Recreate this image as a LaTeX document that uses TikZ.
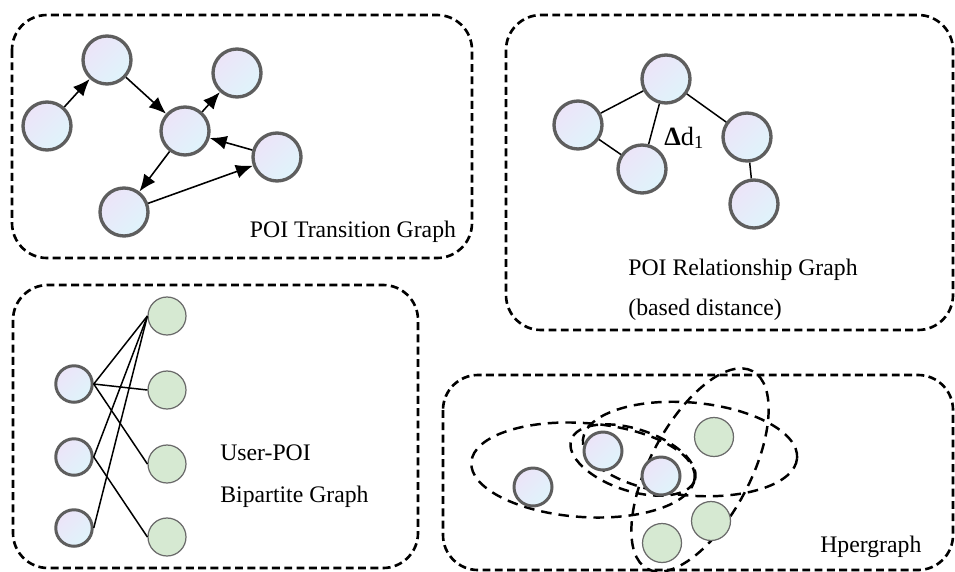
\documentclass[tikz,border=0pt]{standalone}
\usepackage{fontspec}
\setmainfont{Liberation Serif}
\definecolor{nodegray}{HTML}{5E5E5E}
\definecolor{nodelav}{HTML}{ECE4F8}
\definecolor{nodecyan}{HTML}{DFF4FB}
\definecolor{poigreen}{HTML}{D6E9D2}
\definecolor{poiline}{HTML}{6A6A6A}
\usepackage{tikz}
\usetikzlibrary{shapes.geometric, arrows.meta}
\tikzstyle{arrow} = [-{Latex[length=3.4mm, width=2.8mm]}, line width=0.9pt, black]
\tikzstyle{link} = [line width=0.85pt, black]

\begin{document}
\begin{tikzpicture}[x=0.02cm, y=-0.02cm, font=\fontsize{13.5}{16}\selectfont,
    panel/.style={draw, dash pattern=on 4.5pt off 2.5pt, line width=1.5pt, rounded corners=0.7cm},
    poi/.style={circle, draw=nodegray, line width=1.9pt, top color=nodelav, bottom color=nodecyan,
      shading angle=45, minimum size=0.96cm, inner sep=0pt},
    user/.style={poi, line width=1.7pt, minimum size=0.73cm},
    item/.style={circle, draw=poiline, line width=0.7pt, fill=poigreen, minimum size=0.76cm, inner sep=0pt},
    hedge/.style={ellipse, draw, dash pattern=on 6pt off 4pt, line width=1.4pt, inner sep=0pt},
    label/.style={anchor=base west, inner sep=0pt}
  ]
    \useasboundingbox (0,0) rectangle (955,571);

    \draw[panel] (12,15) rectangle (472,258);
    \draw[panel] (506,15) rectangle (953,330);
    \draw[panel] (13,285) rectangle (418,568);
    \draw[panel] (443,375) rectangle (953,570);

    \node[poi] (t1) at (47,126) {};
    \node[poi] (t2) at (107,60) {};
    \node[poi] (t3) at (237,73) {};
    \node[poi] (t4) at (185,131) {};
    \node[poi] (t5) at (277,157) {};
    \node[poi] (t6) at (124,212) {};
    \node[anchor=base, inner sep=0pt] (tname) at (353,237) {POI Transition Graph};

    \draw[arrow] (t1) -- (t2);
    \draw[arrow] (t2) -- (t4);
    \draw[arrow] (t4) -- (t3);
    \draw[arrow] (t5) -- (t4);
    \draw[arrow] (t4) -- (t6);
    \draw[arrow] (t6) -- (t5);

    \node[poi] (r1) at (666,79) {};
    \node[poi] (r2) at (578,125) {};
    \node[poi] (r3) at (642,169) {};
    \node[poi] (r4) at (747,137) {};
    \node[poi] (r5) at (754,204) {};
    \node[label, font=\fontsize{15}{18}\selectfont] (dist) at (664,145) {\textbf{Δ}d\textsubscript{1}};
    \node[label] (rname) at (628,275) {POI Relationship Graph};
    \node[label] (rnote) at (628,315) {(based distance)};

    \draw[link] (r1) -- (r2);
    \draw[link] (r1) -- (r3);
    \draw[link] (r2) -- (r3);
    \draw[link] (r1) -- (r4);
    \draw[link] (r4) -- (r5);

    \node[user] (u1) at (74,384) {};
    \node[user] (u2) at (74,457) {};
    \node[user] (u3) at (74,528) {};
    \node[item] (p1) at (167,316) {};
    \node[item] (p2) at (167,390) {};
    \node[item] (p3) at (167,464) {};
    \node[item] (p4) at (167,537) {};
    \node[label] (bname) at (220,460) {User-POI};
    \node[label] (bnote) at (220,502) {Bipartite Graph};

    \draw[link] (u1.east) -- (p1.west);
    \draw[link] (u1.east) -- (p2.west);
    \draw[link] (u1.east) -- (p3.west);
    \draw[link] (u2.east) -- (p1.west);
    \draw[link] (u2.east) -- (p4.west);
    \draw[link] (u3.east) -- (p1.west);

    \node[hedge, minimum width=4.48cm, minimum height=1.88cm, rotate=-4] (e1) at (583,470) {};
    \node[hedge, minimum width=2.6cm, minimum height=1.24cm, rotate=-18] (e2) at (633,460) {};
    \node[hedge, minimum width=4.3cm, minimum height=1.86cm, rotate=-5] (e3) at (690,449) {};
    \node[hedge, minimum width=4.48cm, minimum height=2cm, rotate=62] (e4) at (700,470) {};

    \node[user, minimum size=0.76cm] (h1) at (533,487) {};
    \node[user, minimum size=0.76cm] (h2) at (603,451) {};
    \node[user, minimum size=0.76cm] (h3) at (661,476) {};
    \node[item, minimum size=0.78cm] (h4) at (714,437) {};
    \node[item, minimum size=0.78cm] (h5) at (711,521) {};
    \node[item, minimum size=0.78cm] (h6) at (662,543) {};
    \node[label] (hname) at (820,552) {Hpergraph};
  \end{tikzpicture}
\end{document}
